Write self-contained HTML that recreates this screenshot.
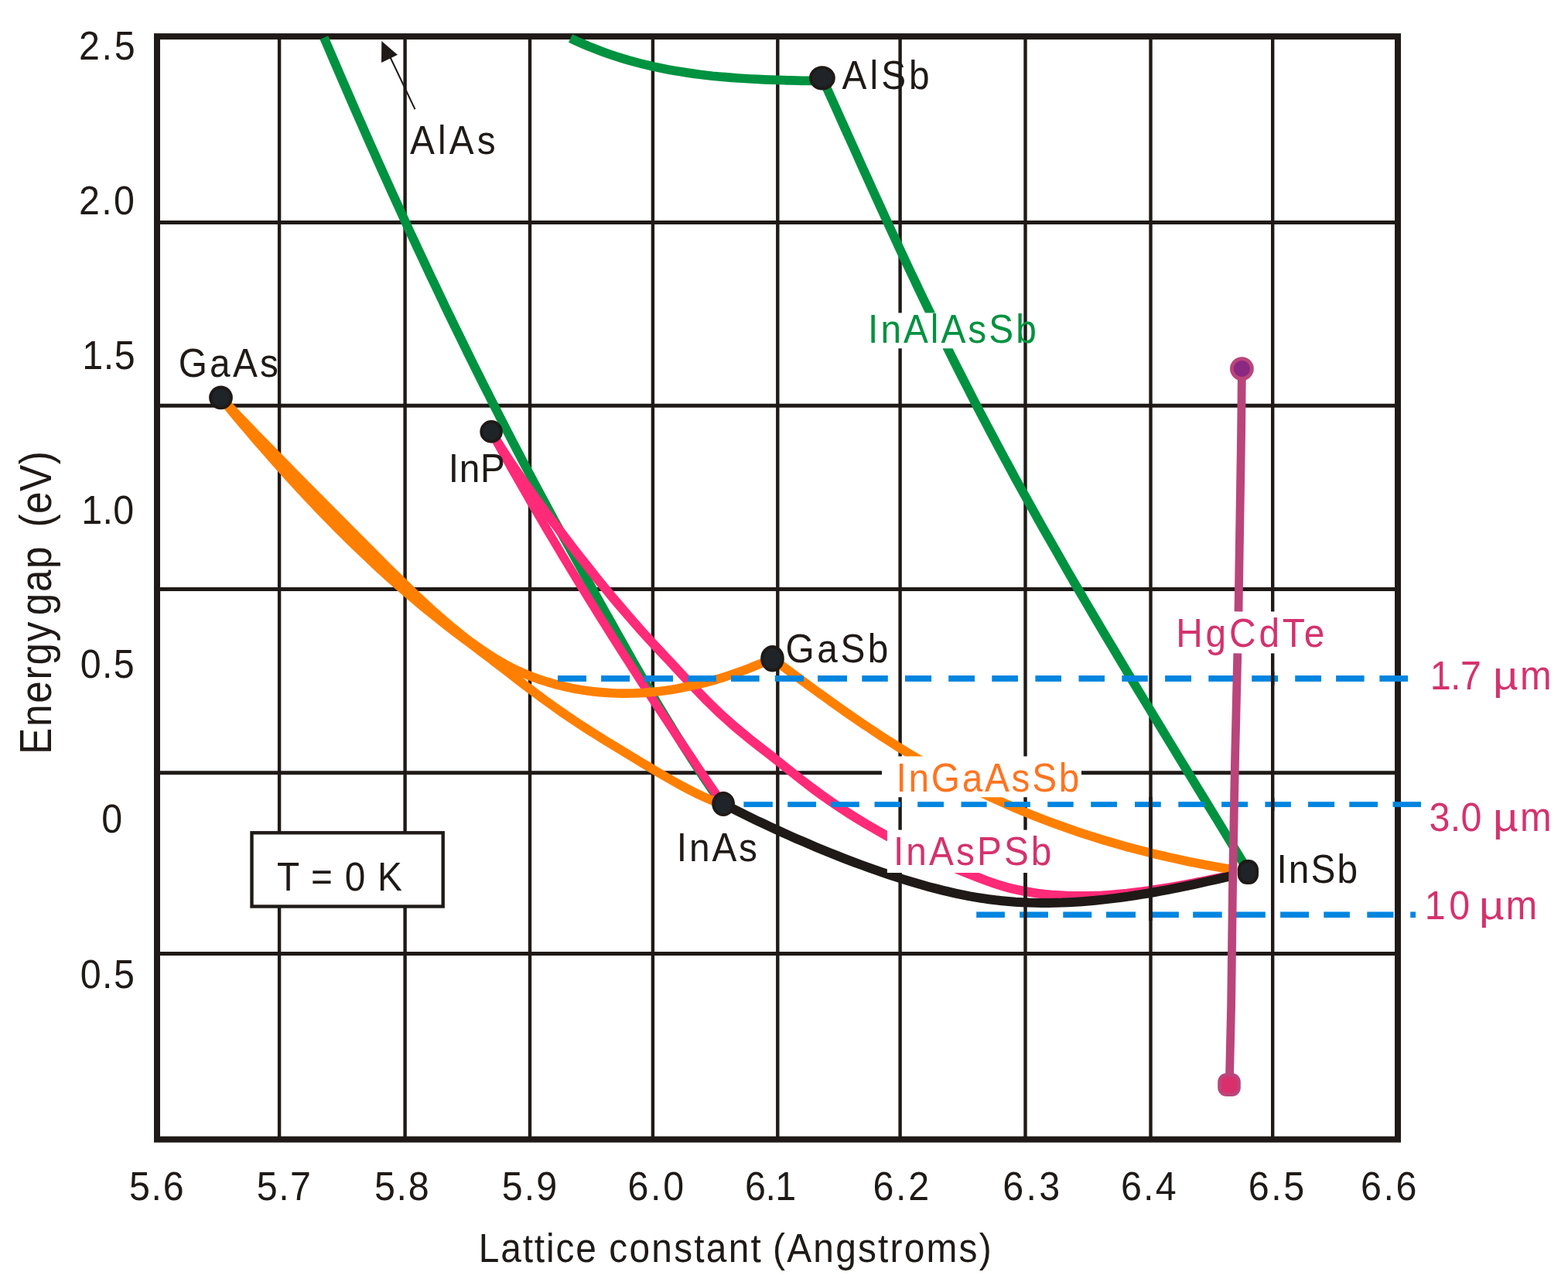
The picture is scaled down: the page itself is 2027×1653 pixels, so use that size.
<!DOCTYPE html>
<html lang="en"><head><meta charset="utf-8"><title>Energy gap vs lattice constant</title>
<style>html,body{margin:0;padding:0;background:#fff;overflow:hidden}svg{display:block}text{font-family:"Liberation Sans",Arial,sans-serif;font-size:51px;fill:#1f1a17}</style></head><body>
<svg xmlns="http://www.w3.org/2000/svg" width="2027" height="1653" viewBox="0 0 2027 1653">
<rect width="2027" height="1653" fill="#fff"/>
<g id="dash3"><rect x="1262.2" y="1178.4" width="36.7" height="7.6" fill="#0085e0"/><rect x="1318.1" y="1178.4" width="36.9" height="7.6" fill="#0085e0"/><rect x="1374.3" y="1178.4" width="36.9" height="7.6" fill="#0085e0"/><rect x="1430.0" y="1178.4" width="38.0" height="7.6" fill="#0085e0"/><rect x="1486.4" y="1178.4" width="37.5" height="7.6" fill="#0085e0"/><rect x="1542.2" y="1178.4" width="37.5" height="7.6" fill="#0085e0"/><rect x="1597.9" y="1178.4" width="37.9" height="7.6" fill="#0085e0"/><rect x="1655.1" y="1178.4" width="36.9" height="7.6" fill="#0085e0"/><rect x="1711.3" y="1178.4" width="33.6" height="7.6" fill="#0085e0"/><rect x="1767.3" y="1178.4" width="34.2" height="7.6" fill="#0085e0"/><rect x="1823.2" y="1178.4" width="6.8" height="7.6" fill="#0085e0"/></g>
<path d="M361.1 47.1 V1472.6 M523.6 47.1 V1472.6 M685.0 47.1 V1472.6 M843.9 47.1 V1472.6 M1005.3 47.1 V1472.6 M1163.6 47.1 V1472.6 M1325.5 47.1 V1472.6 M1487.5 47.1 V1472.6 M1645.2 47.1 V1472.6" fill="none" stroke="#1f1a17" stroke-width="4.4" />
<path d="M203.0 287.4 H1807.0 M203.0 524.3 H1807.0 M203.0 761.4 H1807.0 M203.0 998.7 H1807.0 M203.0 1232.6 H1807.0" fill="none" stroke="#1f1a17" stroke-width="5.0" />
<rect x="203.0" y="47.1" width="1604.0" height="1425.5" fill="none" stroke="#1f1a17" stroke-width="8"/>
<path d="M418.9 48.6 L424.2 61.0 L429.5 73.4 L434.9 85.9 L440.2 98.3 L445.6 110.7 L451.0 123.1 L456.4 135.6 L461.8 148.0 L467.3 160.4 L472.8 172.8 L478.3 185.3 L483.8 197.7 L489.3 210.1 L494.9 222.5 L500.5 234.9 L506.1 247.4 L511.8 259.8 L517.4 272.2 L523.1 284.6 L528.8 297.1 L534.6 309.5 L540.4 321.9 L546.2 334.3 L552.0 346.7 L557.9 359.2 L563.8 371.6 L569.7 384.0 L575.6 396.4 L581.6 408.9 L587.6 421.3 L593.7 433.7 L599.8 446.1 L605.9 458.6 L612.0 471.0 L618.2 483.4 L624.4 495.8 L630.7 508.2 L636.9 520.7 L643.3 533.1 L649.6 545.5 L656.0 557.9 L662.4 570.4 L668.9 582.8 L675.4 595.2 L681.9 607.6 L688.5 620.0 L695.1 632.5 L701.8 644.9 L708.5 657.3 L715.2 669.7 L722.0 682.2 L728.8 694.6 L735.7 707.0 L742.6 719.4 L749.5 731.9 L756.4 744.3 L763.3 756.7 L770.3 769.1 L777.2 781.5 L784.2 794.0 L791.2 806.4 L798.1 818.8 L805.1 831.2 L812.1 843.7 L819.1 856.1 L826.2 868.5 L833.3 880.9 L840.6 893.3 L847.8 905.8 L855.2 918.2 L862.7 930.6 L870.3 943.0 L878.0 955.5 L885.9 967.9 L893.8 980.3 L901.9 992.7 L910.0 1005.2 L918.4 1017.6 L926.8 1030.0" fill="none" stroke="#009240" stroke-width="11.7" stroke-linejoin="round"/>
<path d="M737.5 49.5 L745.8 53.4 L754.2 57.0 L762.5 60.5 L770.9 63.8 L779.2 66.9 L787.6 69.9 L795.9 72.7 L804.2 75.3 L812.6 77.8 L820.9 80.1 L829.3 82.3 L837.6 84.3 L846.0 86.3 L854.3 88.0 L862.7 89.7 L871.0 91.2 L879.3 92.6 L887.7 93.9 L896.0 95.1 L904.4 96.2 L912.7 97.2 L921.1 98.2 L929.4 99.0 L937.7 99.7 L946.1 100.4 L954.4 101.0 L962.8 101.5 L971.1 102.0 L979.5 102.4 L987.8 102.8 L996.2 103.1 L1004.5 103.4 L1012.8 103.7 L1021.2 103.9 L1029.5 104.1 L1037.9 104.3 L1046.2 104.4 L1054.6 104.6 L1062.9 104.7" fill="none" stroke="#009240" stroke-width="11.7" stroke-linejoin="round"/>
<path d="M1062.9 100.8 L1068.8 113.7 L1074.6 126.7 L1080.5 139.6 L1086.3 152.6 L1092.1 165.5 L1097.9 178.4 L1103.8 191.4 L1109.6 204.3 L1115.4 217.3 L1121.3 230.2 L1127.1 243.1 L1133.0 256.1 L1138.9 269.0 L1144.8 281.9 L1150.7 294.9 L1156.7 307.8 L1162.7 320.8 L1168.8 333.7 L1174.8 346.6 L1181.0 359.6 L1187.1 372.5 L1193.3 385.5 L1199.6 398.4 L1205.9 411.3 L1212.2 424.3 L1218.6 437.2 L1225.0 450.2 L1231.4 463.1 L1237.9 476.0 L1244.5 489.0 L1251.1 501.9 L1257.7 514.9 L1264.4 527.8 L1271.2 540.7 L1278.0 553.7 L1284.8 566.6 L1291.7 579.6 L1298.7 592.5 L1305.7 605.4 L1312.7 618.4 L1319.8 631.3 L1327.0 644.2 L1334.2 657.2 L1341.4 670.1 L1348.7 683.1 L1356.1 696.0 L1363.5 708.9 L1370.9 721.9 L1378.3 734.8 L1385.8 747.8 L1393.3 760.7 L1400.9 773.6 L1408.5 786.6 L1416.1 799.5 L1423.8 812.5 L1431.5 825.4 L1439.2 838.3 L1446.9 851.3 L1454.7 864.2 L1462.4 877.2 L1470.2 890.1 L1478.0 903.0 L1485.9 916.0 L1493.7 928.9 L1501.6 941.9 L1509.4 954.8 L1517.3 967.7 L1525.2 980.7 L1533.1 993.6 L1541.0 1006.5 L1548.9 1019.5 L1556.8 1032.4 L1564.7 1045.4 L1572.6 1058.3 L1580.5 1071.2 L1588.4 1084.2 L1596.2 1097.1 L1604.1 1110.1 L1612.0 1123.0" fill="none" stroke="#009240" stroke-width="11.7" stroke-linejoin="round"/>
<path d="M635.1 557.9 L639.5 565.9 L644.0 574.0 L648.4 582.0 L652.9 590.1 L657.4 598.1 L661.9 606.2 L666.5 614.2 L671.1 622.3 L675.7 630.3 L680.3 638.3 L684.9 646.4 L689.6 654.4 L694.3 662.5 L699.0 670.5 L703.7 678.6 L708.4 686.6 L713.2 694.6 L718.0 702.7 L722.8 710.7 L727.6 718.8 L732.5 726.8 L737.3 734.9 L742.2 742.9 L747.1 751.0 L752.0 759.0 L757.0 767.0 L761.9 775.1 L766.9 783.1 L771.9 791.2 L776.9 799.2 L782.0 807.3 L787.0 815.3 L792.1 823.4 L797.2 831.4 L802.3 839.4 L807.4 847.5 L812.6 855.5 L817.8 863.6 L822.9 871.6 L828.1 879.7 L833.3 887.7 L838.6 895.8 L843.8 903.8 L849.1 911.8 L854.4 919.9 L859.7 927.9 L865.0 936.0 L870.3 944.0 L875.7 952.1 L881.0 960.1 L886.4 968.1 L891.8 976.2 L897.2 984.2 L902.6 992.3 L908.1 1000.3 L913.5 1008.4 L919.0 1016.4 L924.5 1024.5 L930.0 1032.5" fill="none" stroke="#ff2a78" stroke-width="11.2" stroke-linejoin="round"/>
<path d="M635.1 557.9 L643.3 571.4 L651.5 584.4 L659.8 597.0 L668.0 609.2 L676.2 621.2 L684.4 632.8 L692.6 644.2 L700.8 655.4 L709.1 666.5 L717.3 677.4 L725.5 688.2 L733.7 699.0 L741.9 709.6 L750.1 720.2 L758.4 730.6 L766.6 741.0 L774.8 751.2 L783.0 761.2 L791.2 771.2 L799.5 781.0 L807.7 790.6 L815.9 800.1 L824.1 809.5 L832.3 818.7 L840.5 827.7 L848.8 836.6 L857.0 845.3 L865.2 854.0 L873.4 862.8 L881.6 871.7 L889.8 880.5 L898.1 889.3 L906.3 897.9 L914.5 906.3 L922.7 914.3 L930.9 922.1 L939.2 929.6 L947.4 936.9 L955.6 943.9 L963.8 950.7 L972.0 957.3 L980.2 963.8 L988.5 970.2 L996.7 976.6 L1004.9 983.1 L1013.1 989.6 L1021.3 996.1 L1029.5 1002.6 L1037.8 1009.1 L1046.0 1015.4 L1054.2 1021.6 L1062.4 1027.6 L1070.6 1033.4 L1078.9 1039.1 L1087.1 1044.6 L1095.3 1049.9 L1103.5 1055.1 L1111.7 1060.2 L1119.9 1065.1 L1128.2 1069.9 L1136.4 1074.6 L1144.6 1079.2 L1152.8 1083.6 L1161.0 1087.9 L1169.2 1092.1 L1177.5 1096.2 L1185.7 1100.3 L1193.9 1104.2 L1202.1 1108.0 L1210.3 1111.7 L1218.6 1115.3 L1226.8 1118.8 L1235.0 1122.3 L1243.2 1125.7 L1251.4 1129.0 L1259.6 1132.2 L1267.9 1135.4 L1276.1 1138.5 L1284.3 1141.4 L1292.5 1144.1 L1300.7 1146.5 L1308.9 1148.6 L1317.2 1150.4 L1325.4 1152.0 L1333.6 1153.4 L1341.8 1154.6 L1350.0 1155.6 L1358.3 1156.4 L1366.5 1157.0 L1374.7 1157.5 L1382.9 1157.9 L1391.1 1158.0 L1399.3 1158.1 L1407.6 1158.0 L1415.8 1157.7 L1424.0 1157.4 L1432.2 1156.9 L1440.4 1156.3 L1448.6 1155.6 L1456.9 1154.8 L1465.1 1153.8 L1473.3 1152.8 L1481.5 1151.7 L1489.7 1150.5 L1498.0 1149.3 L1506.2 1148.0 L1514.4 1146.6 L1522.6 1145.1 L1530.8 1143.6 L1539.0 1142.1 L1547.3 1140.5 L1555.5 1138.9 L1563.7 1137.2 L1571.9 1135.5 L1580.1 1133.8 L1588.3 1132.1 L1596.6 1130.4" fill="none" stroke="#ff2a78" stroke-width="12.0" stroke-linejoin="round"/>
<path d="M1325.5 1126 V1170" fill="none" stroke="#1f1a17" stroke-width="4.4" />
<path d="M285.5 514.0 L292.1 522.0 L298.6 530.0 L305.2 537.9 L311.7 545.7 L318.3 553.5 L324.9 561.2 L331.4 568.9 L338.0 576.5 L344.6 584.0 L351.1 591.5 L357.7 598.9 L364.2 606.2 L370.8 613.5 L377.4 620.7 L383.9 627.9 L390.5 635.0 L397.0 642.0 L403.6 649.0 L410.2 655.9 L416.7 662.7 L423.3 669.5 L429.9 676.2 L436.4 682.8 L443.0 689.4 L449.5 695.9 L456.1 702.3 L462.7 708.6 L469.2 714.9 L475.8 721.1 L482.3 727.3 L488.9 733.4 L495.5 739.4 L502.0 745.3 L508.6 751.2 L515.2 757.0 L521.7 762.7 L528.3 768.4 L534.8 773.9 L541.4 779.4 L548.0 784.9 L554.5 790.2 L561.1 795.5 L567.6 800.7 L574.2 805.9 L580.8 811.0 L587.3 816.0 L593.9 821.0 L600.5 826.0 L607.0 830.9 L613.6 835.9 L620.1 840.8 L626.7 845.8 L633.3 850.7 L639.8 855.8 L646.4 860.8 L653.0 865.9 L659.5 870.9 L666.1 876.0 L672.6 881.0 L679.2 886.1 L685.8 891.0 L692.3 895.9 L698.9 900.8 L705.4 905.6 L712.0 910.3 L718.6 915.0 L725.1 919.6 L731.7 924.1 L738.3 928.6 L744.8 933.0 L751.4 937.3 L757.9 941.5 L764.5 945.7 L771.1 949.9 L777.6 954.0 L784.2 958.1 L790.7 962.1 L797.3 966.1 L803.9 970.1 L810.4 974.1 L817.0 978.0 L823.6 982.0 L830.1 986.0 L836.7 989.9 L843.2 993.8 L849.8 997.7 L856.4 1001.5 L862.9 1005.3 L869.5 1009.0 L876.0 1012.7 L882.6 1016.3 L889.2 1019.7 L895.7 1023.1 L902.3 1026.4 L908.9 1029.5 L915.4 1032.4 L922.0 1035.1 L928.5 1037.3 L935.1 1039.1" fill="none" stroke="#ff7f00" stroke-width="11.7" stroke-linejoin="round"/>
<path d="M285.5 514.0 L292.7 521.6 L299.9 529.1 L307.1 536.7 L314.3 544.1 L321.5 551.6 L328.7 559.0 L335.9 566.5 L343.1 573.8 L350.3 581.2 L357.5 588.6 L364.7 595.9 L371.9 603.2 L379.1 610.5 L386.3 617.8 L393.5 625.1 L400.7 632.4 L407.9 639.6 L415.1 646.9 L422.3 654.1 L429.5 661.4 L436.7 668.6 L443.9 675.9 L451.1 683.1 L458.3 690.4 L465.6 697.6 L472.8 704.9 L480.0 712.1 L487.2 719.4 L494.4 726.6 L501.6 733.8 L508.8 740.9 L516.0 748.0 L523.2 755.0 L530.4 762.0 L537.6 768.9 L544.8 775.6 L552.0 782.3 L559.2 788.8 L566.4 795.2 L573.6 801.5 L580.8 807.6 L588.0 813.6 L595.2 819.4 L602.4 825.0 L609.6 830.4 L616.8 835.6 L624.0 840.6 L631.2 845.4 L638.4 850.0 L645.6 854.3 L652.8 858.4 L660.0 862.2 L667.2 865.7 L674.4 869.0 L681.6 872.1 L688.8 875.0 L696.0 877.6 L703.2 880.0 L710.4 882.2 L717.6 884.3 L724.8 886.1 L732.0 887.8 L739.2 889.4 L746.4 890.7 L753.6 891.9 L760.8 893.0 L768.0 893.9 L775.2 894.6 L782.4 895.2 L789.6 895.7 L796.8 896.0 L804.0 896.1 L811.2 896.1 L818.4 896.0 L825.7 895.7 L832.9 895.3 L840.1 894.7 L847.3 894.0 L854.5 893.2 L861.7 892.3 L868.9 891.2 L876.1 890.0 L883.3 888.6 L890.5 887.1 L897.7 885.6 L904.9 883.8 L912.1 882.0 L919.3 880.0 L926.5 878.0 L933.7 875.8 L940.9 873.5 L948.1 871.1 L955.3 868.5 L962.5 865.9 L969.7 863.2 L976.9 860.3 L984.1 857.4 L991.3 854.3 L998.5 851.2" fill="none" stroke="#ff7f00" stroke-width="11.7" stroke-linejoin="round"/>
<path d="M998.5 851.2 L1006.3 857.0 L1014.1 862.8 L1021.8 868.5 L1029.6 874.3 L1037.4 880.0 L1045.2 885.7 L1052.9 891.4 L1060.7 897.0 L1068.5 902.6 L1076.3 908.2 L1084.1 913.7 L1091.8 919.2 L1099.6 924.6 L1107.4 930.0 L1115.2 935.3 L1123.0 940.5 L1130.7 945.7 L1138.5 950.8 L1146.3 955.9 L1154.1 960.8 L1161.8 965.7 L1169.6 970.5 L1177.4 975.2 L1185.2 979.8 L1193.0 984.4 L1200.7 988.8 L1208.5 993.2 L1216.3 997.5 L1224.1 1001.7 L1231.9 1005.9 L1239.6 1009.9 L1247.4 1013.9 L1255.2 1017.8 L1263.0 1021.6 L1270.7 1025.4 L1278.5 1029.1 L1286.3 1032.7 L1294.1 1036.2 L1301.9 1039.7 L1309.6 1043.0 L1317.4 1046.4 L1325.2 1049.6 L1333.0 1052.8 L1340.8 1055.9 L1348.5 1058.9 L1356.3 1061.9 L1364.1 1064.8 L1371.9 1067.6 L1379.6 1070.3 L1387.4 1073.0 L1395.2 1075.7 L1403.0 1078.3 L1410.8 1080.8 L1418.5 1083.2 L1426.3 1085.6 L1434.1 1087.9 L1441.9 1090.2 L1449.7 1092.4 L1457.4 1094.6 L1465.2 1096.7 L1473.0 1098.7 L1480.8 1100.7 L1488.5 1102.6 L1496.3 1104.5 L1504.1 1106.3 L1511.9 1108.1 L1519.7 1109.8 L1527.4 1111.5 L1535.2 1113.2 L1543.0 1114.7 L1550.8 1116.3 L1558.6 1117.8 L1566.3 1119.2 L1574.1 1120.6 L1581.9 1122.0 L1589.7 1123.3 L1597.4 1124.6" fill="none" stroke="#ff7f00" stroke-width="11.7" stroke-linejoin="round"/>
<path d="M935.1 1039.1 L943.7 1043.4 L952.3 1047.7 L960.8 1051.9 L969.4 1056.1 L978.0 1060.3 L986.6 1064.3 L995.2 1068.4 L1003.7 1072.3 L1012.3 1076.2 L1020.9 1080.1 L1029.5 1083.9 L1038.1 1087.6 L1046.7 1091.3 L1055.2 1094.9 L1063.8 1098.5 L1072.4 1102.0 L1081.0 1105.4 L1089.6 1108.8 L1098.1 1112.1 L1106.7 1115.3 L1115.3 1118.5 L1123.9 1121.6 L1132.5 1124.6 L1141.0 1127.6 L1149.6 1130.5 L1158.2 1133.3 L1166.8 1136.1 L1175.4 1138.7 L1183.9 1141.3 L1192.5 1143.8 L1201.1 1146.2 L1209.7 1148.4 L1218.3 1150.6 L1226.9 1152.7 L1235.4 1154.6 L1244.0 1156.4 L1252.6 1158.1 L1261.2 1159.6 L1269.8 1161.0 L1278.3 1162.2 L1286.9 1163.3 L1295.5 1164.2 L1304.1 1165.0 L1312.7 1165.7 L1321.2 1166.2 L1329.8 1166.6 L1338.4 1166.8 L1347.0 1166.9 L1355.6 1166.9 L1364.2 1166.8 L1372.7 1166.6 L1381.3 1166.2 L1389.9 1165.8 L1398.5 1165.2 L1407.1 1164.5 L1415.6 1163.8 L1424.2 1162.9 L1432.8 1161.9 L1441.4 1160.9 L1450.0 1159.8 L1458.5 1158.6 L1467.1 1157.3 L1475.7 1155.9 L1484.3 1154.5 L1492.9 1153.0 L1501.4 1151.4 L1510.0 1149.8 L1518.6 1148.1 L1527.2 1146.4 L1535.8 1144.6 L1544.4 1142.8 L1552.9 1140.9 L1561.5 1139.0 L1570.1 1137.1 L1578.7 1135.1 L1587.3 1133.1 L1595.8 1131.1" fill="none" stroke="#1f1a17" stroke-width="12" stroke-linejoin="round"/>
<g id="dash1"><rect x="721.0" y="873.0" width="37.0" height="7.9" fill="#0085e0"/><rect x="777.1" y="873.0" width="37.0" height="7.9" fill="#0085e0"/><rect x="833.0" y="873.0" width="37.0" height="7.9" fill="#0085e0"/><rect x="888.9" y="873.0" width="36.9" height="7.9" fill="#0085e0"/><rect x="945.0" y="873.0" width="36.7" height="7.9" fill="#0085e0"/><rect x="1001.8" y="873.0" width="37.1" height="7.9" fill="#0085e0"/><rect x="1057.1" y="873.0" width="37.9" height="7.9" fill="#0085e0"/><rect x="1114.3" y="873.0" width="33.5" height="7.9" fill="#0085e0"/><rect x="1170.0" y="873.0" width="34.1" height="7.9" fill="#0085e0"/><rect x="1226.2" y="873.0" width="33.8" height="7.9" fill="#0085e0"/><rect x="1282.3" y="873.0" width="33.7" height="7.9" fill="#0085e0"/><rect x="1338.4" y="873.0" width="33.6" height="7.9" fill="#0085e0"/><rect x="1394.5" y="873.0" width="33.5" height="7.9" fill="#0085e0"/><rect x="1450.3" y="873.0" width="33.5" height="7.9" fill="#0085e0"/><rect x="1506.1" y="873.0" width="33.9" height="7.9" fill="#0085e0"/><rect x="1562.3" y="873.0" width="33.7" height="7.9" fill="#0085e0"/><rect x="1618.2" y="873.0" width="33.9" height="7.9" fill="#0085e0"/><rect x="1674.2" y="873.0" width="33.8" height="7.9" fill="#0085e0"/><rect x="1727.1" y="873.0" width="36.5" height="7.9" fill="#0085e0"/><rect x="1783.4" y="873.0" width="36.6" height="7.9" fill="#0085e0"/></g>
<g id="dash2"><rect x="961.4" y="1036.2" width="37.5" height="6.9" fill="#0085e0"/><rect x="1018.2" y="1036.2" width="36.9" height="6.9" fill="#0085e0"/><rect x="1074.2" y="1036.2" width="36.7" height="6.9" fill="#0085e0"/><rect x="1130.5" y="1036.2" width="33.5" height="6.9" fill="#0085e0"/><rect x="1186.2" y="1036.2" width="33.8" height="6.9" fill="#0085e0"/><rect x="1242.5" y="1036.2" width="33.1" height="6.9" fill="#0085e0"/><rect x="1298.3" y="1036.2" width="33.6" height="6.9" fill="#0085e0"/><rect x="1354.2" y="1036.2" width="33.5" height="6.9" fill="#0085e0"/><rect x="1410.2" y="1036.2" width="33.8" height="6.9" fill="#0085e0"/><rect x="1467.0" y="1036.2" width="33.8" height="6.9" fill="#0085e0"/><rect x="1523.3" y="1036.2" width="34.1" height="6.9" fill="#0085e0"/><rect x="1579.1" y="1036.2" width="34.0" height="6.9" fill="#0085e0"/><rect x="1635.4" y="1036.2" width="33.5" height="6.9" fill="#0085e0"/><rect x="1691.0" y="1036.2" width="34.1" height="6.9" fill="#0085e0"/><rect x="1744.3" y="1036.2" width="36.7" height="6.9" fill="#0085e0"/><rect x="1800.5" y="1036.2" width="36.5" height="6.9" fill="#0085e0"/></g>
<path d="M1487.5 1030 V1190 M1645.2 868 V886 M1645.2 1031 V1048" fill="none" stroke="#1f1a17" stroke-width="4.4" />
<path d="M503.5 72 L536.5 141.3" stroke="#1f1a17" stroke-width="2" fill="none"/>
<path d="M493.3 53.1 L514 70.8 L493 81.1 Z" fill="#1f1a17"/>
<rect x="1140" y="977.5" width="258" height="52.8" fill="#fff"/>
<rect x="1146.9" y="1072.6" width="215" height="55.4" fill="#fff"/>
<rect x="1518" y="790.4" width="196" height="54" fill="#fff"/>
<rect x="1122" y="404.4" width="180" height="45.9" fill="#fff"/>
<path d="M1605.4 476.6 L1604.6 560 L1601.0 790.4 M1599.8 844.4 L1596.6 980 L1595.8 1020 L1594.5 1092 L1593.6 1140 L1592.6 1220 L1591.6 1300 L1589.3 1400" stroke="#ba457a" stroke-width="10.8" fill="none"/>
<rect x="325.5" y="1076.3" width="247.2" height="95.2" fill="#fff" stroke="#1f1a17" stroke-width="4.4"/>
<ellipse cx="285.5" cy="513.8" rx="13.4" ry="13.4" fill="#1f2428" stroke="#1f1a17" stroke-width="4"/>
<ellipse cx="635.1" cy="557.9" rx="12.8" ry="12.8" fill="#1f2428" stroke="#1f1a17" stroke-width="4"/>
<ellipse cx="1062.9" cy="100.8" rx="14.9" ry="13.6" fill="#1f2428" stroke="#1f1a17" stroke-width="4"/>
<ellipse cx="998.5" cy="851.2" rx="13.3" ry="15.3" fill="#1f2428" stroke="#1f1a17" stroke-width="4"/>
<ellipse cx="935.1" cy="1039.1" rx="12.9" ry="14.0" fill="#1f2428" stroke="#1f1a17" stroke-width="4"/>
<rect x="1601.8" y="1113.1" width="23.2" height="27.9" rx="10.3" ry="11" fill="#1f2428" stroke="#1f1a17" stroke-width="4"/>
<circle cx="1605.4" cy="476.6" r="13" fill="#8b2881" stroke="#ba457a" stroke-width="4.8"/>
<rect x="1576.5" y="1389.3" width="25" height="25.4" rx="9" ry="9" fill="#d9306c" stroke="#ba457a" stroke-width="4.6"/>
<text transform="translate(101.9 76.7) scale(0.94 1)" style="font-size:51.5px;letter-spacing:2.94px;">2.5</text>
<text transform="translate(101.9 276.7) scale(0.94 1)" style="font-size:51.5px;letter-spacing:2.54px;">2.0</text>
<text transform="translate(106.3 476.8) scale(0.94 1)" style="font-size:51.5px;letter-spacing:0.63px;">1.5</text>
<text transform="translate(105.2 676.7) scale(0.94 1)" style="font-size:51.5px;letter-spacing:0.39px;">1.0</text>
<text transform="translate(103.8 876.0) scale(0.94 1)" style="font-size:51.5px;letter-spacing:1.42px;">0.5</text>
<text transform="translate(131.2 1076.4) scale(0.94 1)" style="font-size:51.5px;letter-spacing:0.00px;">0</text>
<text transform="translate(103.8 1276.5) scale(0.94 1)" style="font-size:51.5px;letter-spacing:1.48px;">0.5</text>
<text transform="translate(167.0 1550.7) scale(0.94 1)" style="font-size:51.5px;letter-spacing:1.74px;">5.6</text>
<text transform="translate(331.8 1550.7) scale(0.94 1)" style="font-size:51.5px;letter-spacing:1.53px;">5.7</text>
<text transform="translate(484.0 1550.7) scale(0.94 1)" style="font-size:51.5px;letter-spacing:1.74px;">5.8</text>
<text transform="translate(648.8 1550.7) scale(0.94 1)" style="font-size:51.5px;letter-spacing:2.17px;">5.9</text>
<text transform="translate(811.5 1550.7) scale(0.94 1)" style="font-size:51.5px;letter-spacing:2.86px;">6.0</text>
<text transform="translate(963.1 1550.7) scale(0.94 1)" style="font-size:51.5px;letter-spacing:-0.67px;">6.1</text>
<text transform="translate(1128.5 1550.7) scale(0.94 1)" style="font-size:51.5px;letter-spacing:2.84px;">6.2</text>
<text transform="translate(1296.3 1550.7) scale(0.94 1)" style="font-size:51.5px;letter-spacing:3.48px;">6.3</text>
<text transform="translate(1449.0 1550.7) scale(0.94 1)" style="font-size:51.5px;letter-spacing:2.33px;">6.4</text>
<text transform="translate(1613.7 1550.7) scale(0.94 1)" style="font-size:51.5px;letter-spacing:2.78px;">6.5</text>
<text transform="translate(1758.9 1550.7) scale(0.94 1)" style="font-size:51.5px;letter-spacing:2.84px;">6.6</text>
<text transform="translate(618.7 1631.4) scale(0.93 1)" style="font-size:51.5px;letter-spacing:1.98px;">Lattice</text>
<text transform="translate(787.3 1631.4) scale(0.93 1)" style="font-size:51.5px;letter-spacing:2.38px;">constant</text>
<text transform="translate(999.1 1631.4) scale(0.93 1)" style="font-size:51.5px;letter-spacing:2.35px;">(Angstroms)</text>
<text transform="translate(530.0 198.9) scale(0.915 1)" style="font-size:52.2px;letter-spacing:4.55px;">AlAs</text>
<text transform="translate(1088.6 114.8) scale(0.915 1)" style="font-size:52.2px;letter-spacing:4.42px;">AlSb</text>
<text transform="translate(230.7 486.6) scale(0.915 1)" style="font-size:52.2px;letter-spacing:3.56px;">GaAs</text>
<text transform="translate(579.8 622.6) scale(0.915 1)" style="font-size:52.2px;letter-spacing:0.74px;">InP</text>
<text transform="translate(1015.4 856.1) scale(0.915 1)" style="font-size:52.2px;letter-spacing:3.98px;">GaSb</text>
<text transform="translate(874.8 1112.5) scale(0.915 1)" style="font-size:52.2px;letter-spacing:3.15px;">InAs</text>
<text transform="translate(1650.4 1140.8) scale(0.915 1)" style="font-size:52.2px;letter-spacing:2.37px;">InSb</text>
<text transform="translate(1122.1 442.5) scale(0.915 1)" style="font-size:52.2px;letter-spacing:3.31px;fill:#009240;">InAlAsSb</text>
<text transform="translate(1158.5 1022.9) scale(0.915 1)" style="font-size:52.2px;letter-spacing:2.99px;fill:#ff7420;">InGaAsSb</text>
<text transform="translate(1154.9 1117.6) scale(0.915 1)" style="font-size:52.2px;letter-spacing:3.41px;fill:#d4326e;">InAsPSb</text>
<text transform="translate(1520.2 835.8) scale(0.915 1)" style="font-size:52.2px;letter-spacing:4.26px;fill:#d4326e;">HgCdTe</text>
<text transform="translate(1848.7 890.5) scale(0.94 1)" style="font-size:51.5px;letter-spacing:-0.59px;fill:#d4326e;">1.7</text>
<text transform="translate(1930.1 890.5) scale(1.1 1)" style="font-size:51.5px;letter-spacing:0.00px;fill:#d4326e;">µ</text>
<text transform="translate(1965.1 890.5) scale(0.947 1)" style="font-size:51.5px;letter-spacing:0.00px;fill:#d4326e;">m</text>
<text transform="translate(1847.4 1074.1) scale(0.94 1)" style="font-size:51.5px;letter-spacing:0.44px;fill:#d4326e;">3.0</text>
<text transform="translate(1930.1 1074.1) scale(1.1 1)" style="font-size:51.5px;letter-spacing:0.00px;fill:#d4326e;">µ</text>
<text transform="translate(1965.1 1074.1) scale(0.947 1)" style="font-size:51.5px;letter-spacing:0.00px;fill:#d4326e;">m</text>
<text transform="translate(1841.7 1187.7) scale(0.94 1)" style="font-size:51.5px;letter-spacing:4.98px;fill:#d4326e;">10</text>
<text transform="translate(1912.0 1187.7) scale(1.1 1)" style="font-size:51.5px;letter-spacing:0.00px;fill:#d4326e;">µ</text>
<text transform="translate(1946.4 1187.7) scale(0.947 1)" style="font-size:51.5px;letter-spacing:0.00px;fill:#d4326e;">m</text>
<text transform="translate(358.1 1151.0) scale(0.915 1)" style="font-size:52.2px;letter-spacing:1.34px;">T = 0 K</text>
<text transform="translate(65.5 974.9) rotate(-90) scale(0.9 1)" style="font-size:57.0px;letter-spacing:1.93px">Energy</text>
<text transform="translate(65.5 795.2) rotate(-90) scale(0.9 1)" style="font-size:57.0px;letter-spacing:1.77px">gap</text>
<text transform="translate(65.5 681.6) rotate(-90) scale(0.9 1)" style="font-size:57.0px;letter-spacing:0.57px">(eV)</text>
</svg></body></html>
